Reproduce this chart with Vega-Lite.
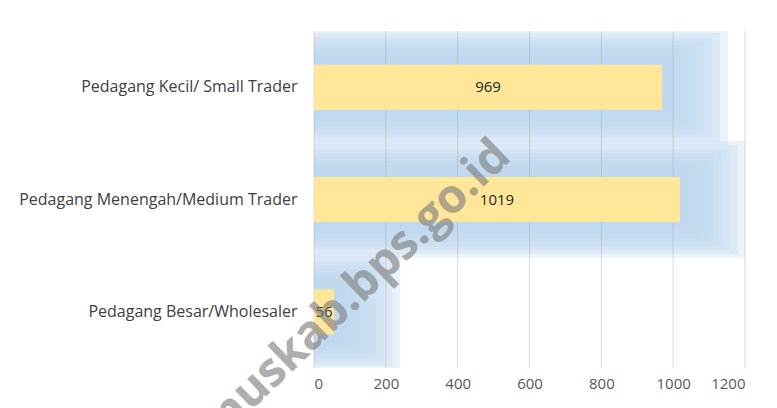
{
  "$schema": "https://vega.github.io/schema/vega-lite/v6.json",
  "width": 431,
  "height": 337,
  "autosize": "none",
  "padding": {"left": 314, "top": 31, "right": 32, "bottom": 40},
  "background": "white",
  "config": {
    "view": {"stroke": null},
    "font": "Open Sans"
  },
  "datasets": {
    "traders": [
      {"category": "Pedagang Kecil/ Small Trader", "value": 969},
      {"category": "Pedagang Menengah/Medium Trader", "value": 1019},
      {"category": "Pedagang Besar/Wholesaler", "value": 56}
    ],
    "grid": [
      {"tick": 0}, {"tick": 200}, {"tick": 400}, {"tick": 600},
      {"tick": 800}, {"tick": 1000}, {"tick": 1200}
    ]
  },
  "data": {"name": "traders"},
  "encoding": {
    "y": {
      "field": "category",
      "type": "nominal",
      "sort": null,
      "scale": {"paddingInner": 0.6, "paddingOuter": 0.3},
      "axis": {
        "title": null,
        "domain": false,
        "ticks": false,
        "labelPadding": 17,
        "labelFontSize": 16,
        "labelColor": "#404040",
        "labelLimit": 0,
        "grid": false
      }
    },
    "x": {
      "field": "value",
      "type": "quantitative",
      "scale": {"domain": [0, 1200], "nice": false},
      "axis": {
        "title": null,
        "domain": false,
        "ticks": false,
        "values": [0, 200, 400, 600, 800, 1000, 1200],
        "format": "d",
        "grid": false,
        "labelFontSize": 15,
        "labelColor": "#595959",
        "labelPadding": 8
      }
    }
  },
  "layer": [
    {
      "encoding": {"x2": {"datum": -300}},
      "layer": [
        {"mark": {"type": "bar", "color": "#bdd7ee", "opacity": 0.3, "size": 117, "xOffset": 66, "clip": true}},
        {"mark": {"type": "bar", "color": "#bdd7ee", "opacity": 0.3, "size": 109, "xOffset": 58, "clip": true}},
        {"mark": {"type": "bar", "color": "#bdd7ee", "opacity": 0.3, "size": 101, "xOffset": 50, "clip": true}},
        {"mark": {"type": "bar", "color": "#bdd7ee", "opacity": 0.3, "size": 93, "xOffset": 42, "clip": true}},
        {"mark": {"type": "bar", "color": "#bdd7ee", "opacity": 0.3, "size": 85, "xOffset": 34, "clip": true}},
        {"mark": {"type": "bar", "color": "#bdd7ee", "opacity": 0.3, "size": 77, "xOffset": 26, "clip": true}},
        {"mark": {"type": "bar", "color": "#bdd7ee", "opacity": 0.3, "size": 69, "xOffset": 18, "clip": true}},
        {"mark": {"type": "bar", "color": "#bdd7ee", "opacity": 0.3, "size": 61, "xOffset": 10, "clip": true}}
      ]
    },
    {
      "data": {"name": "grid"},
      "mark": {"type": "rule", "color": "#a0a0a0", "opacity": 0.4, "strokeWidth": 1},
      "encoding": {
        "x": {"field": "tick", "type": "quantitative"},
        "y": {"value": 0},
        "y2": {"value": "height"}
      }
    },
    {"mark": {"type": "bar", "color": "#ffe699"}},
    {
      "mark": {"type": "text", "fontSize": 15, "color": "#262626"},
      "encoding": {
        "x": {"field": "value", "type": "quantitative", "stack": "zero", "bandPosition": 0.5},
        "text": {"field": "value", "type": "quantitative"}
      }
    },
    {
      "mark": {"type": "text", "fontSize": 47, "fontWeight": "bold", "color": "#808080", "opacity": 0.28, "angle": -44, "dx": 30},
      "encoding": {
        "x": {"datum": 55},
        "y": {"datum": "Pedagang Besar/Wholesaler"},
        "text": {"value": "muskab.bps.go.id"}
      }
    }
  ]
}
